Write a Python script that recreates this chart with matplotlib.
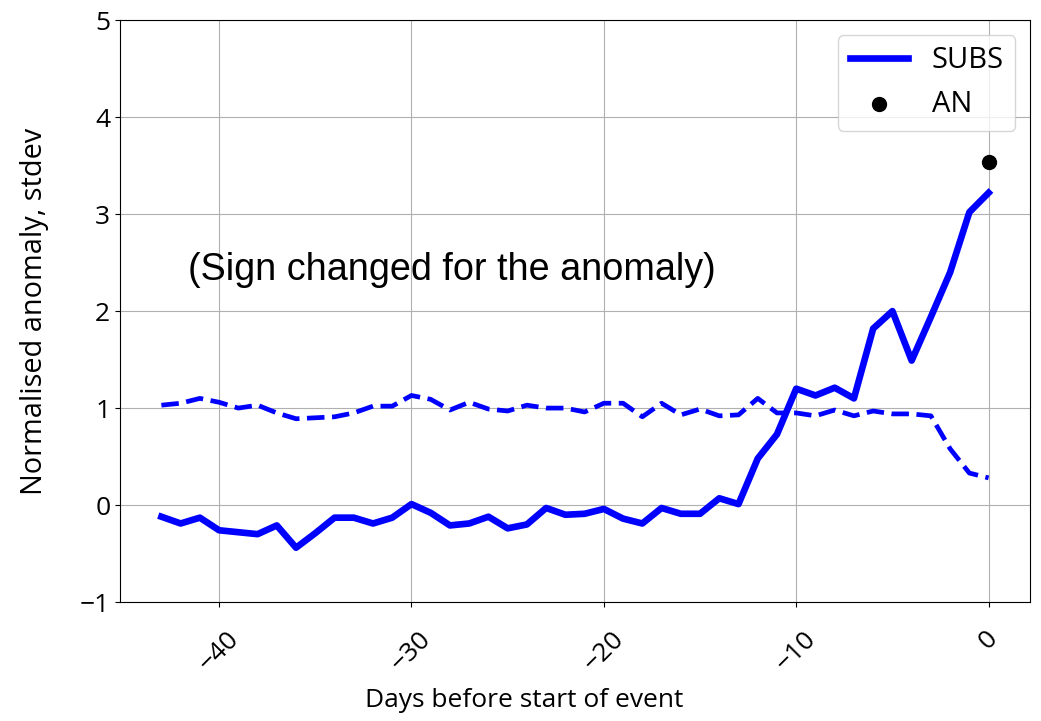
import numpy as np
import matplotlib
matplotlib.use("Agg")
import matplotlib.pyplot as plt

plt.rcParams["font.family"] = ["Open Sans", "DejaVu Sans"]
plt.rcParams["font.size"] = 19

# days before the event start
days = np.arange(-43, 1)

# subsidence index, sign changed
subs = [-0.12, -0.19, -0.13, -0.26, -0.28, -0.30, -0.21, -0.44, -0.29, -0.13,
        -0.13, -0.19, -0.13, 0.01, -0.08, -0.21, -0.19, -0.12, -0.24, -0.20,
        -0.03, -0.10, -0.09, -0.04, -0.14, -0.19, -0.03, -0.09, -0.09, 0.07,
        0.01, 0.48, 0.73, 1.20, 1.13, 1.21, 1.10, 1.82, 2.00, 1.49,
        1.94, 2.40, 3.02, 3.22]

# climatological reference (dashed)
ref = [1.03, 1.05, 1.10, 1.06, 1.00, 1.03, 0.95, 0.89, 0.90, 0.91,
       0.95, 1.02, 1.02, 1.13, 1.09, 0.98, 1.06, 0.99, 0.97, 1.03,
       1.00, 1.00, 0.96, 1.05, 1.05, 0.91, 1.05, 0.93, 0.99, 0.92,
       0.93, 1.10, 0.95, 0.95, 0.92, 0.98, 0.92, 0.97, 0.94, 0.94,
       0.92, 0.58, 0.33, 0.28]

an_day = 0
an_value = 3.54

fig = plt.figure(figsize=(10.41, 7.21), dpi=100)
ax = fig.add_axes([0.1153, 0.165, 0.8741, 0.807])

ax.plot(days, subs, color="blue", lw=4.8, label="SUBS")
ax.plot(days, ref, color="blue", lw=3.4, ls="--")
ax.scatter([an_day], [an_value], color="black", s=100, zorder=3, label="AN")

ax.text(-41.6, 2.32, "(Sign changed for the anomaly)", fontsize=27.2,
        family=["Liberation Sans", "DejaVu Sans"])

ax.set_ylim(-1, 5)
ax.grid(True)
ax.tick_params(axis="x", pad=14)
ax.set_xlabel("Days before start of event")
ax.set_ylabel("Normalised anomaly, stdev", fontsize=20.8)
ax.xaxis.set_label_coords(0.444, -0.148)
ax.yaxis.set_label_coords(-0.078, 0.5)
plt.setp(ax.get_xticklabels(), rotation=45)
ax.legend(loc="upper right", fontsize=21)

fig.savefig("out.png", dpi=100)
